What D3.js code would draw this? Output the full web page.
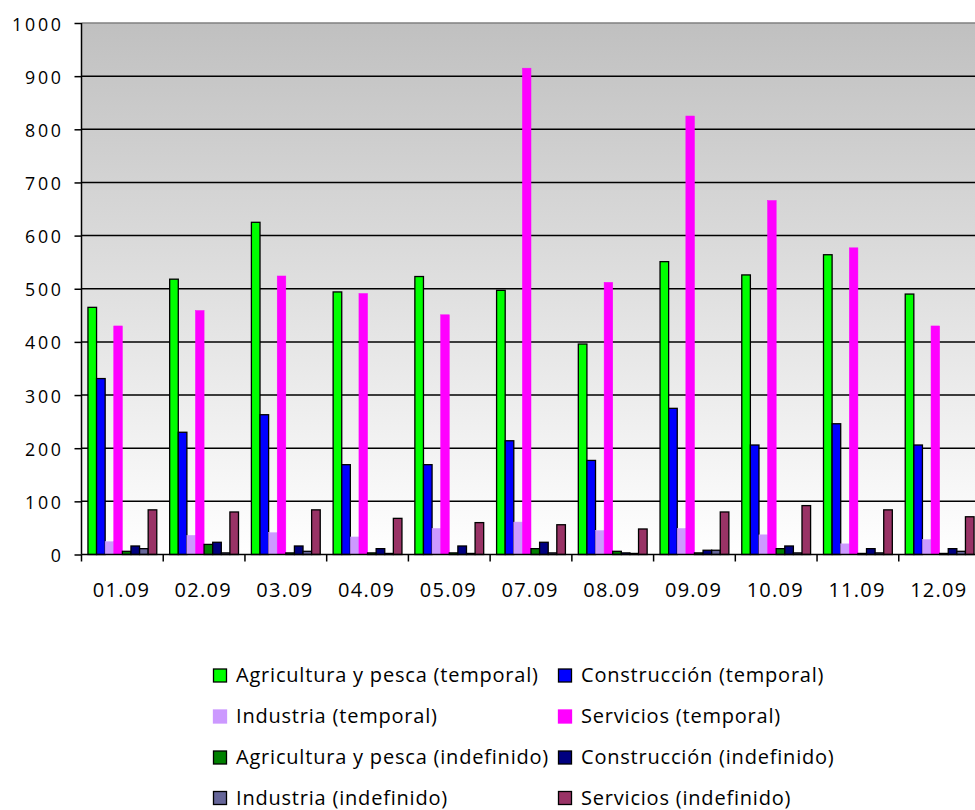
<!DOCTYPE html>
<html><head><meta charset="utf-8">
<script src="https://cdn.jsdelivr.net/npm/d3@7"></script>
<style>html,body{margin:0;padding:0;background:#fff;overflow:hidden}</style>
</head><body>
<script>
const categories = ["01.09","02.09","03.09","04.09","05.09","07.09","08.09","09.09","10.09","11.09","12.09"];
const seriesNames = ["Agricultura y pesca (temporal)","Construcción (temporal)","Industria (temporal)","Servicios (temporal)","Agricultura y pesca (indefinido)","Construcción (indefinido)","Industria (indefinido)","Servicios (indefinido)"];
const agriTemp   = [465, 518, 625, 494, 523, 497, 396, 551, 526, 564, 490];
const constrTemp = [331, 230, 263, 169, 169, 214, 177, 275, 206, 246, 206];
const indTemp    = [24, 36, 41, 33, 49, 61, 45, 49, 37, 20, 28];
const servTemp   = [430, 459, 524, 491, 451, 915, 512, 825, 666, 577, 430];
const agriIndef  = [6, 19, 3, 3, 3, 11, 6, 3, 11, 2, 2];
const constrIndef= [16, 23, 16, 11, 16, 23, 3, 8, 16, 11, 11];
const indIndef   = [11, 3, 6, 2, 2, 3, 2, 8, 3, 3, 6];
const servIndef  = [84, 80, 84, 68, 60, 56, 48, 80, 92, 84, 71];
const yTicks = [0,100,200,300,400,500,600,700,800,900,1000];

const seriesValues = [agriTemp, constrTemp, indTemp, servTemp, agriIndef, constrIndef, indIndef, servIndef];
const colors = ["#00ff00","#0000ff","#cc99ff","#ff00ff","#008000","#000080","#666699","#993366"];
const bordered = [true,true,false,false,true,true,true,true];

const FONT = "'Open Sans', Lato, sans-serif";
const W = 975, H = 810;
const svg = d3.select("body").append("svg").attr("width", W).attr("height", H)
  .style("font-family", FONT);

// uniform letter-spacing so that a reference string reaches a target width
function spacingFor(str, size, target) {
  const t = svg.append("text").attr("font-size", size).attr("font-family", FONT).text(str);
  const len = t.node().getComputedTextLength();
  t.remove();
  return (target - len) / (str.length - 1);
}

const pL = 81.5, pR = 980.5, pT = 23, pB = 554.5;
const x0 = d3.scaleBand().domain(categories).range([pL, pR]).padding(0);
const x1 = d3.scaleBand().domain(d3.range(seriesNames.length)).range([0, x0.bandwidth()]).paddingInner(0).paddingOuter(0.75);
const y = d3.scaleLinear().domain([0, 1000]).range([pB, pT]);

const defs = svg.append("defs");
const grad = defs.append("linearGradient").attr("id","bg").attr("x1",0).attr("y1",0).attr("x2",0).attr("y2",1);
grad.append("stop").attr("offset","0%").attr("stop-color","#c0c0c0");
grad.append("stop").attr("offset","100%").attr("stop-color","#ffffff");

svg.append("rect").attr("x", pL).attr("y", pT).attr("width", pR - pL).attr("height", pB - pT)
  .attr("fill", "url(#bg)");
svg.append("line").attr("x1", pL).attr("x2", pR).attr("y1", pT).attr("y2", pT)
  .attr("stroke", "#808080").attr("stroke-width", 1.5);

// gridlines
svg.append("g").selectAll("line").data(yTicks.filter(d => d > 0 && d < 1000)).join("line")
  .attr("x1", pL).attr("x2", pR).attr("y1", d => y(d)).attr("y2", d => y(d))
  .attr("stroke", "#000").attr("stroke-width", 1.5);

// bars
const groups = svg.append("g").selectAll("g").data(categories).join("g")
  .attr("transform", d => `translate(${x0(d)},0)`);
groups.selectAll("rect").data((c, ci) => seriesValues.map((vals, si) => ({si, v: vals[ci]}))).join("rect")
  .attr("x", d => x1(d.si))
  .attr("y", d => y(d.v))
  .attr("width", x1.bandwidth())
  .attr("height", d => y(0) - y(d.v))
  .attr("fill", d => colors[d.si])
  .attr("stroke", d => bordered[d.si] ? "#000" : colors[d.si])
  .attr("stroke-width", d => bordered[d.si] ? 1.3 : 0.5);

// y axis
const ySize = 17.8, ySp = spacingFor("1000", ySize, 49);
const yAxis = svg.append("g").attr("transform", `translate(${pL},0)`)
  .call(d3.axisLeft(y).tickValues(yTicks).tickSize(7).tickPadding(13.5 - ySp).tickFormat(d3.format("d")));
yAxis.select(".domain").attr("stroke", "#000").attr("stroke-width", 1.5).attr("d", `M0,${pT}V${pB}`);
yAxis.selectAll(".tick line").attr("stroke", "#000").attr("stroke-width", 1.5);
yAxis.selectAll(".tick text").attr("font-size", ySize).attr("fill", "#000")
  .attr("font-family", FONT).attr("letter-spacing", ySp).attr("dy", 7);

// x axis
const xSize = 20, xSp = spacingFor("01.09", xSize, 56);
const xAxis = svg.append("g").attr("transform", `translate(0,${pB})`);
xAxis.append("line").attr("x1", pL).attr("x2", pR).attr("y1", 0).attr("y2", 0).attr("stroke", "#000").attr("stroke-width", 1.5);
xAxis.selectAll("line.tk").data(categories).join("line").attr("class","tk")
  .attr("x1", d => x0(d)).attr("x2", d => x0(d)).attr("y1", 0).attr("y2", 7)
  .attr("stroke", "#000").attr("stroke-width", 1.5);
xAxis.selectAll("text").data(categories).join("text")
  .attr("x", d => x0(d) + x0.bandwidth() / 2 - 1.5 + xSp / 2).attr("y", 42)
  .attr("text-anchor", "middle").attr("font-size", xSize).attr("fill", "#000")
  .attr("letter-spacing", xSp)
  .text(d => d);

// legend
const lSize = 20, lSp = spacingFor("Agricultura y pesca (temporal)", lSize, 302);
const legCols = [213, 558];
const legRows = [675.5, 716.5, 757.5, 798];
const leg = svg.append("g").selectAll("g").data(seriesNames).join("g")
  .attr("transform", (d, i) => `translate(${legCols[i % 2]},${legRows[Math.floor(i / 2)]})`);
leg.append("rect").attr("x", 0.5).attr("y", -6.5).attr("width", 13).attr("height", 13)
  .attr("fill", (d, i) => colors[i])
  .attr("stroke", (d, i) => bordered[i] ? "#000" : colors[i]).attr("stroke-width", 1.3);
leg.append("text").attr("x", 23).attr("y", 6.5).attr("font-size", lSize).attr("fill", "#000")
  .attr("letter-spacing", lSp)
  .text(d => d);
</script>
</body></html>
